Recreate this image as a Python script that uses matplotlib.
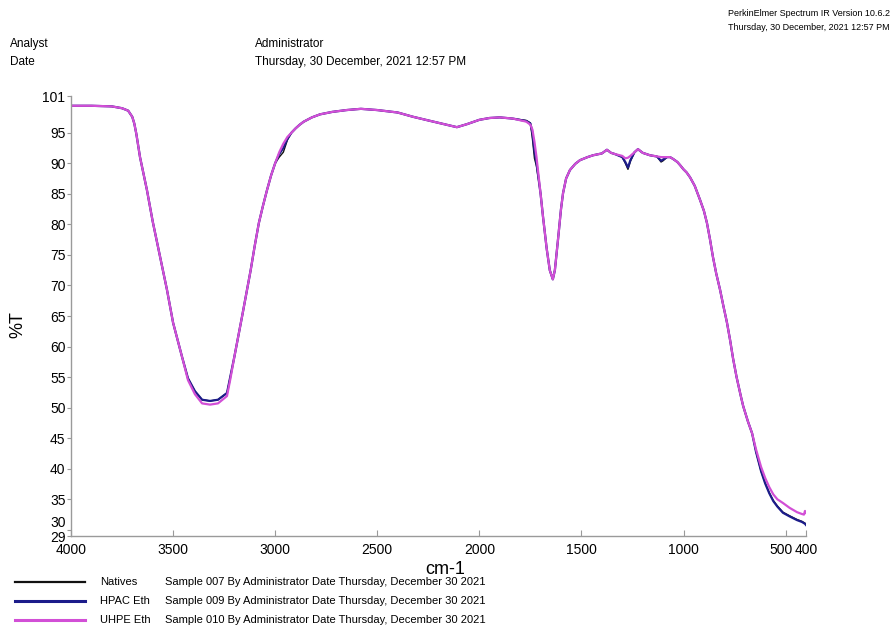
import numpy as np
import matplotlib.pyplot as plt
from matplotlib.transforms import ScaledTranslation

# wavenumber (cm-1) and %T
wavenumber = [4000, 3900, 3800, 3750, 3720, 3700, 3690, 3680, 3662, 3640,
              3628, 3600, 3564, 3530, 3500, 3456, 3427, 3393, 3358, 3319,
              3280, 3236, 3220, 3200, 3180, 3160, 3140, 3120, 3100, 3080,
              3060, 3040, 3020, 3000,
              2980, 2960, 2940, 2920, 2900, 2880, 2860, 2820, 2780, 2720,
              2650, 2580, 2500, 2400, 2325, 2250, 2160, 2110, 2060, 2000,
              1950, 1900, 1835, 1770, 1750, 1740, 1730, 1720, 1700, 1688,
              1670, 1655, 1640, 1630, 1615, 1600, 1590, 1575, 1556, 1530,
              1507, 1470, 1443, 1400, 1375, 1355, 1336, 1300, 1285, 1272,
              1260, 1240, 1223, 1200, 1164, 1130, 1110, 1100, 1080,
              1066, 1051, 1030, 1017, 1000, 985, 968, 945, 919, 900,
              885, 870, 856, 840, 821, 805, 787, 772, 757, 740,
              720, 708, 685, 664, 645, 620, 600, 580, 560, 540,
              513, 480, 444, 420, 410, 405, 400]

uhpe = [99.4, 99.4, 99.3, 99.0, 98.6, 97.6, 96.5, 94.8, 91.0, 87.5,
        85.6, 80.5, 74.7, 69.3, 63.9, 58.3, 54.5, 52.2, 50.7, 50.5,
        50.7, 51.9, 54.6, 58.3, 61.8, 65.3, 68.9, 72.5, 76.5, 80.2,
        83.0, 85.6, 88.0, 90.0,
        91.8, 93.2, 94.3, 95.0, 95.7, 96.3, 96.8, 97.5, 98.0, 98.4,
        98.7, 98.9, 98.7, 98.3, 97.6, 97.0, 96.3, 95.9, 96.4, 97.1,
        97.4, 97.5, 97.3, 96.8, 96.3, 95.5, 93.5, 91.0, 85.0, 81.2,
        76.0, 72.5, 71.0, 72.5, 77.4, 82.5, 85.1, 87.5, 88.9, 89.9,
        90.5, 91.0, 91.3, 91.6, 92.2, 91.7, 91.5, 91.2, 90.8, 90.9,
        91.2, 91.8, 92.3, 91.7, 91.3, 91.1, 91.0, 91.0, 91.0,
        91.0, 90.7, 90.2, 89.7, 89.0, 88.5, 87.7, 86.3, 84.0, 82.2,
        80.2, 77.5, 74.7, 72.0, 69.3, 66.7, 63.9, 61.1, 58.0, 55.0,
        52.0, 50.3, 47.8, 45.8, 43.2, 40.3, 38.5, 37.0, 35.8, 35.0,
        34.4, 33.6, 32.9, 32.6, 32.5, 33.1, 32.8]

hpac = [99.4, 99.4, 99.3, 99.0, 98.6, 97.6, 96.5, 94.8, 91.0, 87.5,
        85.6, 80.5, 74.7, 69.3, 63.9, 58.3, 54.8, 52.7, 51.3, 51.1,
        51.3, 52.4, 55.0, 58.3, 61.8, 65.3, 68.9, 72.5, 76.5, 80.2,
        83.0, 85.6, 88.0, 90.0,
        91.5, 92.5, 94.0, 95.0, 95.7, 96.3, 96.8, 97.5, 98.0, 98.4,
        98.7, 98.9, 98.7, 98.3, 97.6, 97.0, 96.3, 95.9, 96.4, 97.1,
        97.4, 97.5, 97.3, 96.9, 96.5, 95.0, 92.0, 90.0, 85.0, 81.2,
        76.0, 72.5, 71.0, 72.5, 77.4, 82.5, 85.1, 87.5, 88.9, 89.9,
        90.5, 91.0, 91.3, 91.6, 92.2, 91.7, 91.5, 91.0, 90.2, 89.3,
        90.5, 91.8, 92.3, 91.7, 91.3, 91.1, 90.4, 90.6, 91.0,
        91.0, 90.7, 90.2, 89.7, 89.0, 88.5, 87.7, 86.3, 84.0, 82.2,
        80.2, 77.5, 74.7, 72.0, 69.3, 66.7, 63.9, 61.1, 58.0, 55.0,
        52.0, 50.3, 47.8, 45.8, 42.8, 39.6, 37.6, 36.0, 34.7, 33.8,
        32.8, 32.2, 31.6, 31.3, 31.1, 31.0, 30.8]

natives = [99.4, 99.4, 99.3, 99.0, 98.6, 97.6, 96.5, 94.8, 91.0, 87.5,
           85.6, 80.5, 74.7, 69.3, 63.9, 58.3, 54.8, 52.7, 51.3, 51.1,
           51.3, 52.4, 55.0, 58.3, 61.8, 65.3, 68.9, 72.5, 76.5, 80.2,
           83.0, 85.6, 88.0, 90.0,
           91.0, 91.8, 93.8, 95.0, 95.7, 96.3, 96.8, 97.5, 98.0, 98.4,
           98.7, 98.9, 98.7, 98.3, 97.6, 97.0, 96.3, 95.9, 96.4, 97.1,
           97.4, 97.5, 97.3, 97.0, 96.6, 94.0, 90.8, 89.5, 85.0, 81.2,
           76.0, 72.5, 71.0, 72.5, 77.4, 82.5, 85.1, 87.5, 88.9, 89.9,
           90.5, 91.0, 91.3, 91.6, 92.2, 91.7, 91.5, 91.0, 90.0, 89.0,
           90.3, 91.8, 92.3, 91.7, 91.3, 91.1, 90.2, 90.4, 91.0,
           91.0, 90.7, 90.2, 89.7, 89.0, 88.5, 87.7, 86.3, 84.0, 82.2,
           80.2, 77.5, 74.7, 72.0, 69.3, 66.7, 63.9, 61.1, 58.0, 55.0,
           52.0, 50.3, 47.8, 45.8, 42.8, 39.6, 37.7, 36.1, 34.8, 33.9,
           32.9, 32.3, 31.7, 31.4, 31.2, 31.1, 30.9]

names = ['Natives', 'HPAC Eth', 'UHPE Eth']
samples = ['Sample 007', 'Sample 009', 'Sample 010']
colors = ['#111111', '#1c1c8a', '#d24fd6']
widths = [1.0, 1.6, 1.6]

xticks = [4000, 3500, 3000, 2500, 2000, 1500, 1000, 500, 400]
yticks = [29, 30, 35, 40, 45, 50, 55, 60, 65, 70, 75, 80, 85, 90, 95, 101]

plt.rcParams['font.family'] = ['Liberation Sans', 'DejaVu Sans']

fig = plt.figure(figsize=(8.96, 6.28), dpi=100)
ax = fig.add_axes([71/896, 1-536/628, 735/896, 440/628])

for y, c, w in zip([natives, hpac, uhpe], colors, widths):
    ax.plot(wavenumber, y, color=c, lw=w)

ax.set_xlim(4000, 400)
ax.set_ylim(29, 101)
ax.set_xticks(xticks)
ax.set_xticklabels([str(t) for t in xticks])
ax.set_yticks(yticks)
ax.set_yticklabels([str(t) for t in yticks])
for s in ['top', 'right']:
    ax.spines[s].set_visible(False)
for s in ['left', 'bottom']:
    ax.spines[s].set_color('#9a9a9a')
    ax.spines[s].set_linewidth(1.0)
ax.tick_params(axis='x', direction='in', length=4, color='#9a9a9a', labelsize=10, pad=5)
ax.tick_params(axis='y', direction='out', length=3, color='#9a9a9a', labelsize=10, pad=1)

# nudge crowded labels like the original
lbl = ax.get_yticklabels()
lbl[1].set_transform(lbl[1].get_transform() + ScaledTranslation(0, 6/72, fig.dpi_scale_trans))
xl = ax.get_xticklabels()
xl[7].set_transform(xl[7].get_transform() + ScaledTranslation(-3/72, 0, fig.dpi_scale_trans))

fig.text(18/896, 1-325/628, '%T', rotation=90, fontsize=13, ha='center', va='center')
fig.text(445/896, 1-570/628, 'cm-1', fontsize=13, ha='center', va='center')

# header
fig.text(10/896, 1-44/628, 'Analyst', fontsize=8.5, va='center')
fig.text(10/896, 1-62/628, 'Date', fontsize=8.5, va='center')
fig.text(255/896, 1-44/628, 'Administrator', fontsize=8.5, va='center')
fig.text(255/896, 1-62/628, 'Thursday, 30 December, 2021 12:57 PM', fontsize=8.5, va='center')
fig.text(890/896, 1-14/628, 'PerkinElmer Spectrum IR Version 10.6.2', fontsize=6.5, ha='right', va='center')
fig.text(890/896, 1-28/628, 'Thursday, 30 December, 2021 12:57 PM', fontsize=6.5, ha='right', va='center')

# legend drawn beneath the axes
for i, (n, s, c, w) in enumerate(zip(names, samples, colors, widths)):
    yy = 1 - (582 + i*19)/628
    fig.add_artist(plt.Line2D([15/896, 85/896], [yy, yy], color=c, lw=w+0.6))
    fig.text(100/896, yy, n, fontsize=8, va='center')
    fig.text(165/896, yy, s + ' By Administrator Date Thursday, December 30 2021', fontsize=8, va='center')

fig.savefig('out.png', dpi=100)
